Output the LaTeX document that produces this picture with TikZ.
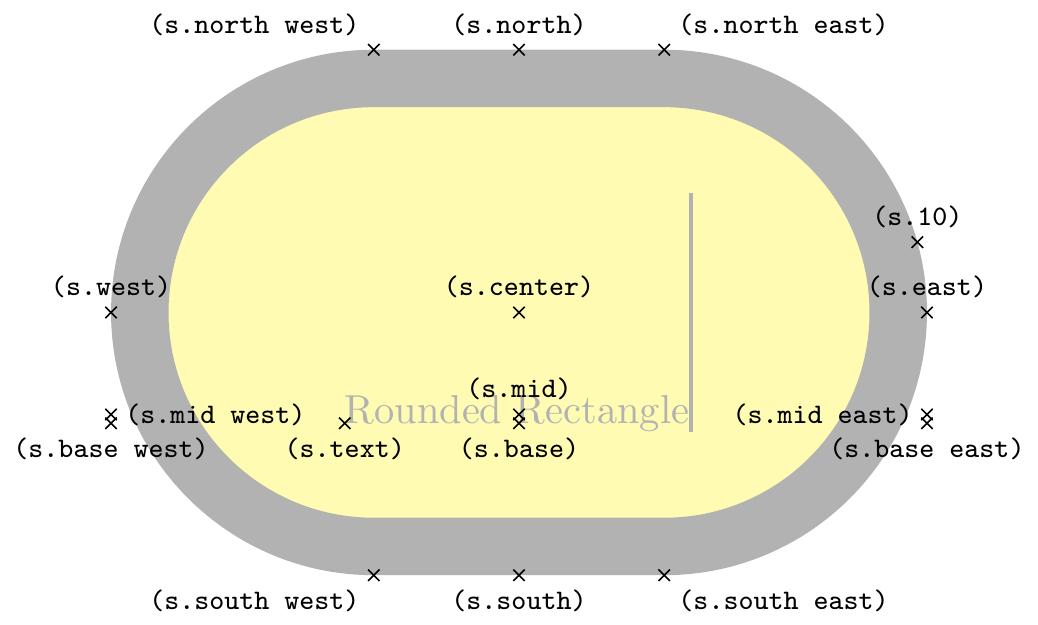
\documentclass[tikz,border=0pt]{standalone}
\usetikzlibrary{shapes.misc}
\tikzset{shape example/.style={color=black!30,draw,fill=yellow!30,line width=.5cm,inner xsep=2.5cm,inner ysep=0.5cm}}
\begin{document}
\begin{tikzpicture}
\node[name=s,shape=rounded rectangle,shape example,inner xsep=1.5cm,inner ysep=1cm] {Rounded Rectangle\vrule width 1pt height 2cm};
\foreach \anchor/\placement in
  {north west/above left, north/above, north east/above right,
   west/above, center/above, east/above,
   mid west/right, mid/above, mid east/left,
   base west/below, base/below, base east/below,
   south west/below left, south/below, south east/below right,
   text/below, 10/above}
  \draw[shift=(s.\anchor)] plot[mark=x] coordinates{(0,0)}
    node[\placement] {\scriptsize\texttt{(s.\anchor)}};
\end{tikzpicture}
\end{document}
